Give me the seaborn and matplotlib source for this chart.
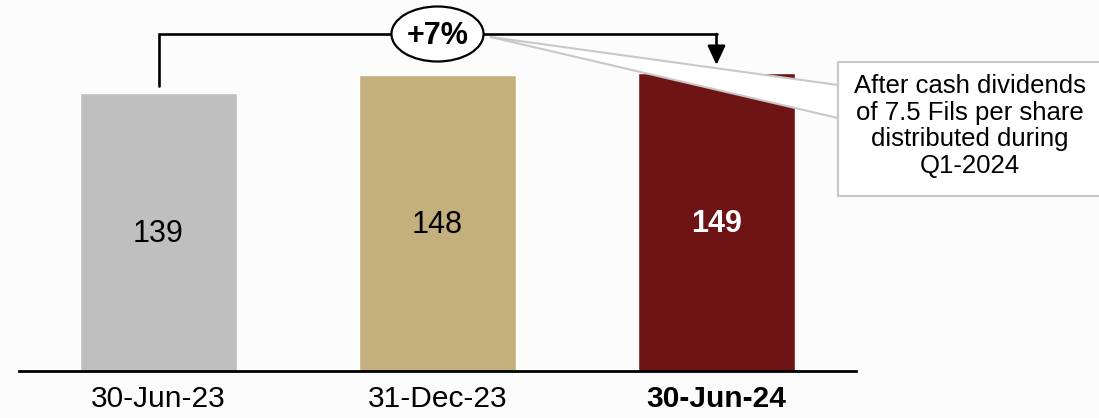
import matplotlib
matplotlib.use("Agg")
import matplotlib.pyplot as plt
import seaborn as sns
import pandas as pd
from matplotlib.patches import Ellipse, Rectangle, Polygon, FancyArrowPatch

categories = ["30-Jun-23", "31-Dec-23", "30-Jun-24"]
values = [139, 148, 149]
colors = ["#BFBFBF", "#C4B07D", "#6E1414"]
growth_label = "+7%"
note = "After cash dividends\nof 7.5 Fils per share\ndistributed during\nQ1-2024"

sns.set_theme(style="white")
plt.rcParams["font.family"] = ["Liberation Sans", "DejaVu Sans"]

df = pd.DataFrame({"date": categories, "value": values})

fig = plt.figure(figsize=(10.99, 4.18), dpi=100)
fig.patch.set_facecolor("#fcfcfc")
ax = fig.add_axes([19 / 1099, 47 / 418, 837 / 1099, 371 / 418])
ax.set_facecolor("none")

sns.barplot(data=df, x="date", y="value", hue="date", palette=colors,
            width=0.563, saturation=1, legend=False, ax=ax)

ax.set_xlim(-0.5, 2.5)
ax.set_ylim(0, 185.5)
ax.set_xlabel("")
ax.set_ylabel("")
ax.set_yticks([])
for s in ["left", "right", "top"]:
    ax.spines[s].set_visible(False)
ax.spines["bottom"].set_color("black")
ax.spines["bottom"].set_linewidth(2)
ax.tick_params(axis="x", length=0, pad=10, labelsize=21.5, colors="black")
for i, lab in enumerate(ax.get_xticklabels()):
    if i == 2:
        lab.set_fontweight("bold")

# value labels
for i, v in enumerate(values):
    bold = i == 2
    ax.text(i, v / 2 - 1, str(v), ha="center", va="center", fontsize=22,
            color="white" if bold else "black",
            fontweight="bold" if bold else "normal")

# bracket
ax.plot([0, 0, 2], [142.5, 168.5, 168.5], color="black", lw=1.9,
        solid_joinstyle="miter", clip_on=False, zorder=5)
ax.add_patch(FancyArrowPatch((2, 168.5), (2, 153), arrowstyle="-|>,head_length=0.58,head_width=0.27",
                             mutation_scale=20, color="black", lw=1.9,
                             shrinkA=0, shrinkB=0, zorder=5, clip_on=False))
ax.add_patch(Ellipse((1.0, 168.5), 0.33, 27.5, facecolor="white",
                     edgecolor="black", lw=1.6, zorder=6, clip_on=False))
ax.text(1.0, 167.5, growth_label, ha="center", va="center", fontsize=22,
        fontweight="bold", color="black", zorder=7)

# callout wedge
wedge = [(1.19, 167), (2.435, 143), (2.435, 126.5)]
ax.add_patch(Polygon(wedge, closed=True, facecolor="white", edgecolor="none",
                     zorder=8, clip_on=False))
ax.plot([1.19, 2.435], [167, 143], color="#C8C8C8", lw=1.5, zorder=9, clip_on=False)
ax.plot([1.19, 2.435], [167, 126.5], color="#C8C8C8", lw=1.5, zorder=9, clip_on=False)
ax.add_patch(Rectangle((2.435, 87.5), 1.0, 67, facecolor="white",
                       edgecolor="#C8C8C8", lw=1.5, zorder=10, clip_on=False))
ax.text(2.909, 122.5, note, ha="center", va="center", fontsize=18.5,
        linespacing=1.15, color="black", zorder=11)

fig.savefig("out.png", dpi=100, facecolor=fig.get_facecolor())
